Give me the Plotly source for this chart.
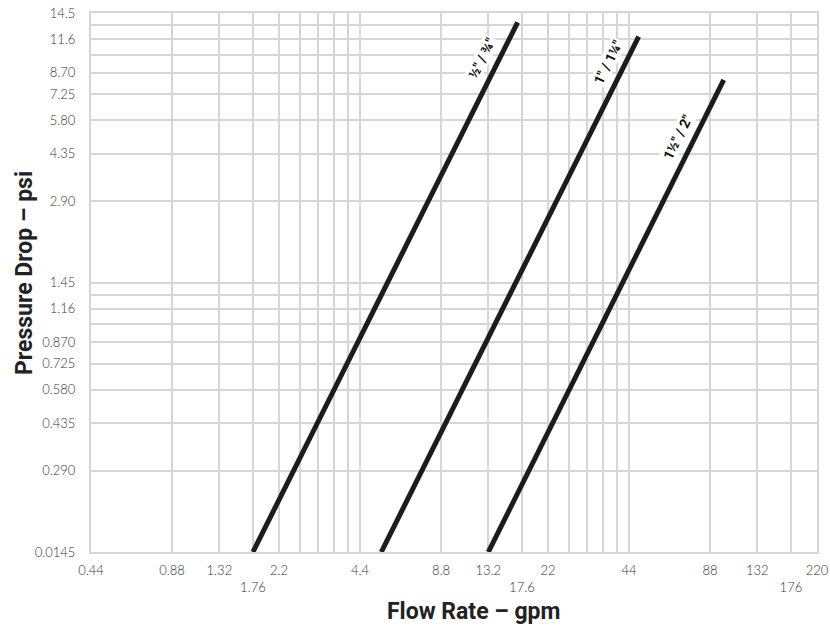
import math
import plotly.graph_objects as go

# ---- data (flow rate in gpm, pressure drop in psi) ----
flow_half = [1.76, 16.96]
dp_half = [0.145, 13.38]
flow_one = [5.28, 47.8]
dp_one = [0.145, 11.86]
flow_onehalf = [13.2, 99.0]
dp_onehalf = [0.145, 8.19]
series_names = ["½″ / ¾″", "1″ / 1¼″", "1½″ / 2″"]

# x ticks (gpm)
x_tickvals = [0.44, 0.88, 1.32, 1.76, 2.2, 2.64, 3.08, 3.52, 3.96, 4.4, 8.8, 13.2, 17.6, 22,
              26.4, 30.8, 35.2, 39.6, 44, 88, 132, 176, 220]
x_ticktext = ["0.44", "0.88", "1.32", "<br>1.76", "2.2", "", "", "", "", "4.4", "8.8", "13.2",
              "<br>17.6", "22", "", "", "", "", "44", "88", "132", "<br>176", "220"]
# y ticks (psi positions, printed labels)
y_tickvals = [0.145, 0.29, 0.435, 0.58, 0.725, 0.87, 1.015, 1.16, 1.305, 1.45, 2.9, 4.35, 5.8,
              7.25, 8.7, 10.15, 11.6, 13.05, 14.5]
y_ticktext = ["0.0145", "0.290", "0.435", "0.580", "0.725", "0.870", "", "1.16", "", "1.45",
              "2.90", "4.35", "5.80", "7.25", "8.70", "", "11.6", "", "14.5"]

x_title = "Flow Rate – gpm"
y_title = "Pressure Drop – psi"

label_frac = [0.933, 0.951, 0.880]

grid_col = "#d6d6d6"
line_col = "#1c1c1c"

fig = go.Figure()
series = [(flow_half, dp_half), (flow_one, dp_one), (flow_onehalf, dp_onehalf)]
for (fx, fy), name in zip(series, series_names):
    fig.add_trace(go.Scatter(x=fx, y=fy, mode="lines", name=name,
                             line=dict(color=line_col, width=5), showlegend=False))

for (fx, fy), name, f in zip(series, series_names, label_frac):
    lx = math.log10(fx[0]) + f * (math.log10(fx[1]) - math.log10(fx[0]))
    ly = math.log10(fy[0]) + f * (math.log10(fy[1]) - math.log10(fy[0]))
    fig.add_annotation(x=lx, y=ly, xref="x", yref="y", text="<b>" + name + "</b>",
                       showarrow=False, textangle=-63.4, xshift=-18,
                       font=dict(family="Roboto, sans-serif", size=14, color="#111"),
                       bgcolor="white", borderpad=0)

tick_font = dict(family="Lato, sans-serif", size=13, color="#333", weight=300)
title_font = dict(family="Roboto, sans-serif", size=23, color="#222", weight="bold")

pl, pr, pt, pb = 91, 13, 13, 78
pw, ph = 830 - pl - pr, 630 - pt - pb
# axis titles placed by pixel centre, converted to paper coordinates
fig.add_annotation(x=(474 - pl) / pw, y=(630 - 611 - pb) / ph, xref="paper", yref="paper",
                   text=x_title, showarrow=False, font=title_font,
                   xanchor="center", yanchor="middle")
fig.add_annotation(x=(24 - pl) / pw, y=(630 - 273 - pb) / ph, xref="paper", yref="paper",
                   text=y_title, showarrow=False, font=title_font, textangle=-90,
                   xanchor="center", yanchor="middle")

fig.update_xaxes(type="log", range=[math.log10(0.44), math.log10(220)],
                 tickmode="array", tickvals=x_tickvals, ticktext=x_ticktext,
                 showgrid=True, gridcolor=grid_col, gridwidth=2,
                 showline=True, linecolor=grid_col, linewidth=2, mirror=True,
                 zeroline=False, ticks="", tickfont=tick_font, automargin=False,
                 ticklabelstandoff=5)
fig.update_yaxes(type="log", range=[math.log10(0.145), math.log10(14.5)],
                 tickmode="array", tickvals=y_tickvals, ticktext=y_ticktext,
                 showgrid=True, gridcolor=grid_col, gridwidth=2,
                 showline=True, linecolor=grid_col, linewidth=2, mirror=True,
                 zeroline=False, ticks="", tickfont=tick_font, automargin=False,
                 ticklabelstandoff=11)

fig.update_layout(width=830, height=630, margin=dict(l=pl, r=pr, t=pt, b=pb),
                  paper_bgcolor="white", plot_bgcolor="white")

fig.write_html("out.html", config={"displayModeBar": False},
               post_script="document.body.style.margin='0';document.body.style.overflow='hidden';")
